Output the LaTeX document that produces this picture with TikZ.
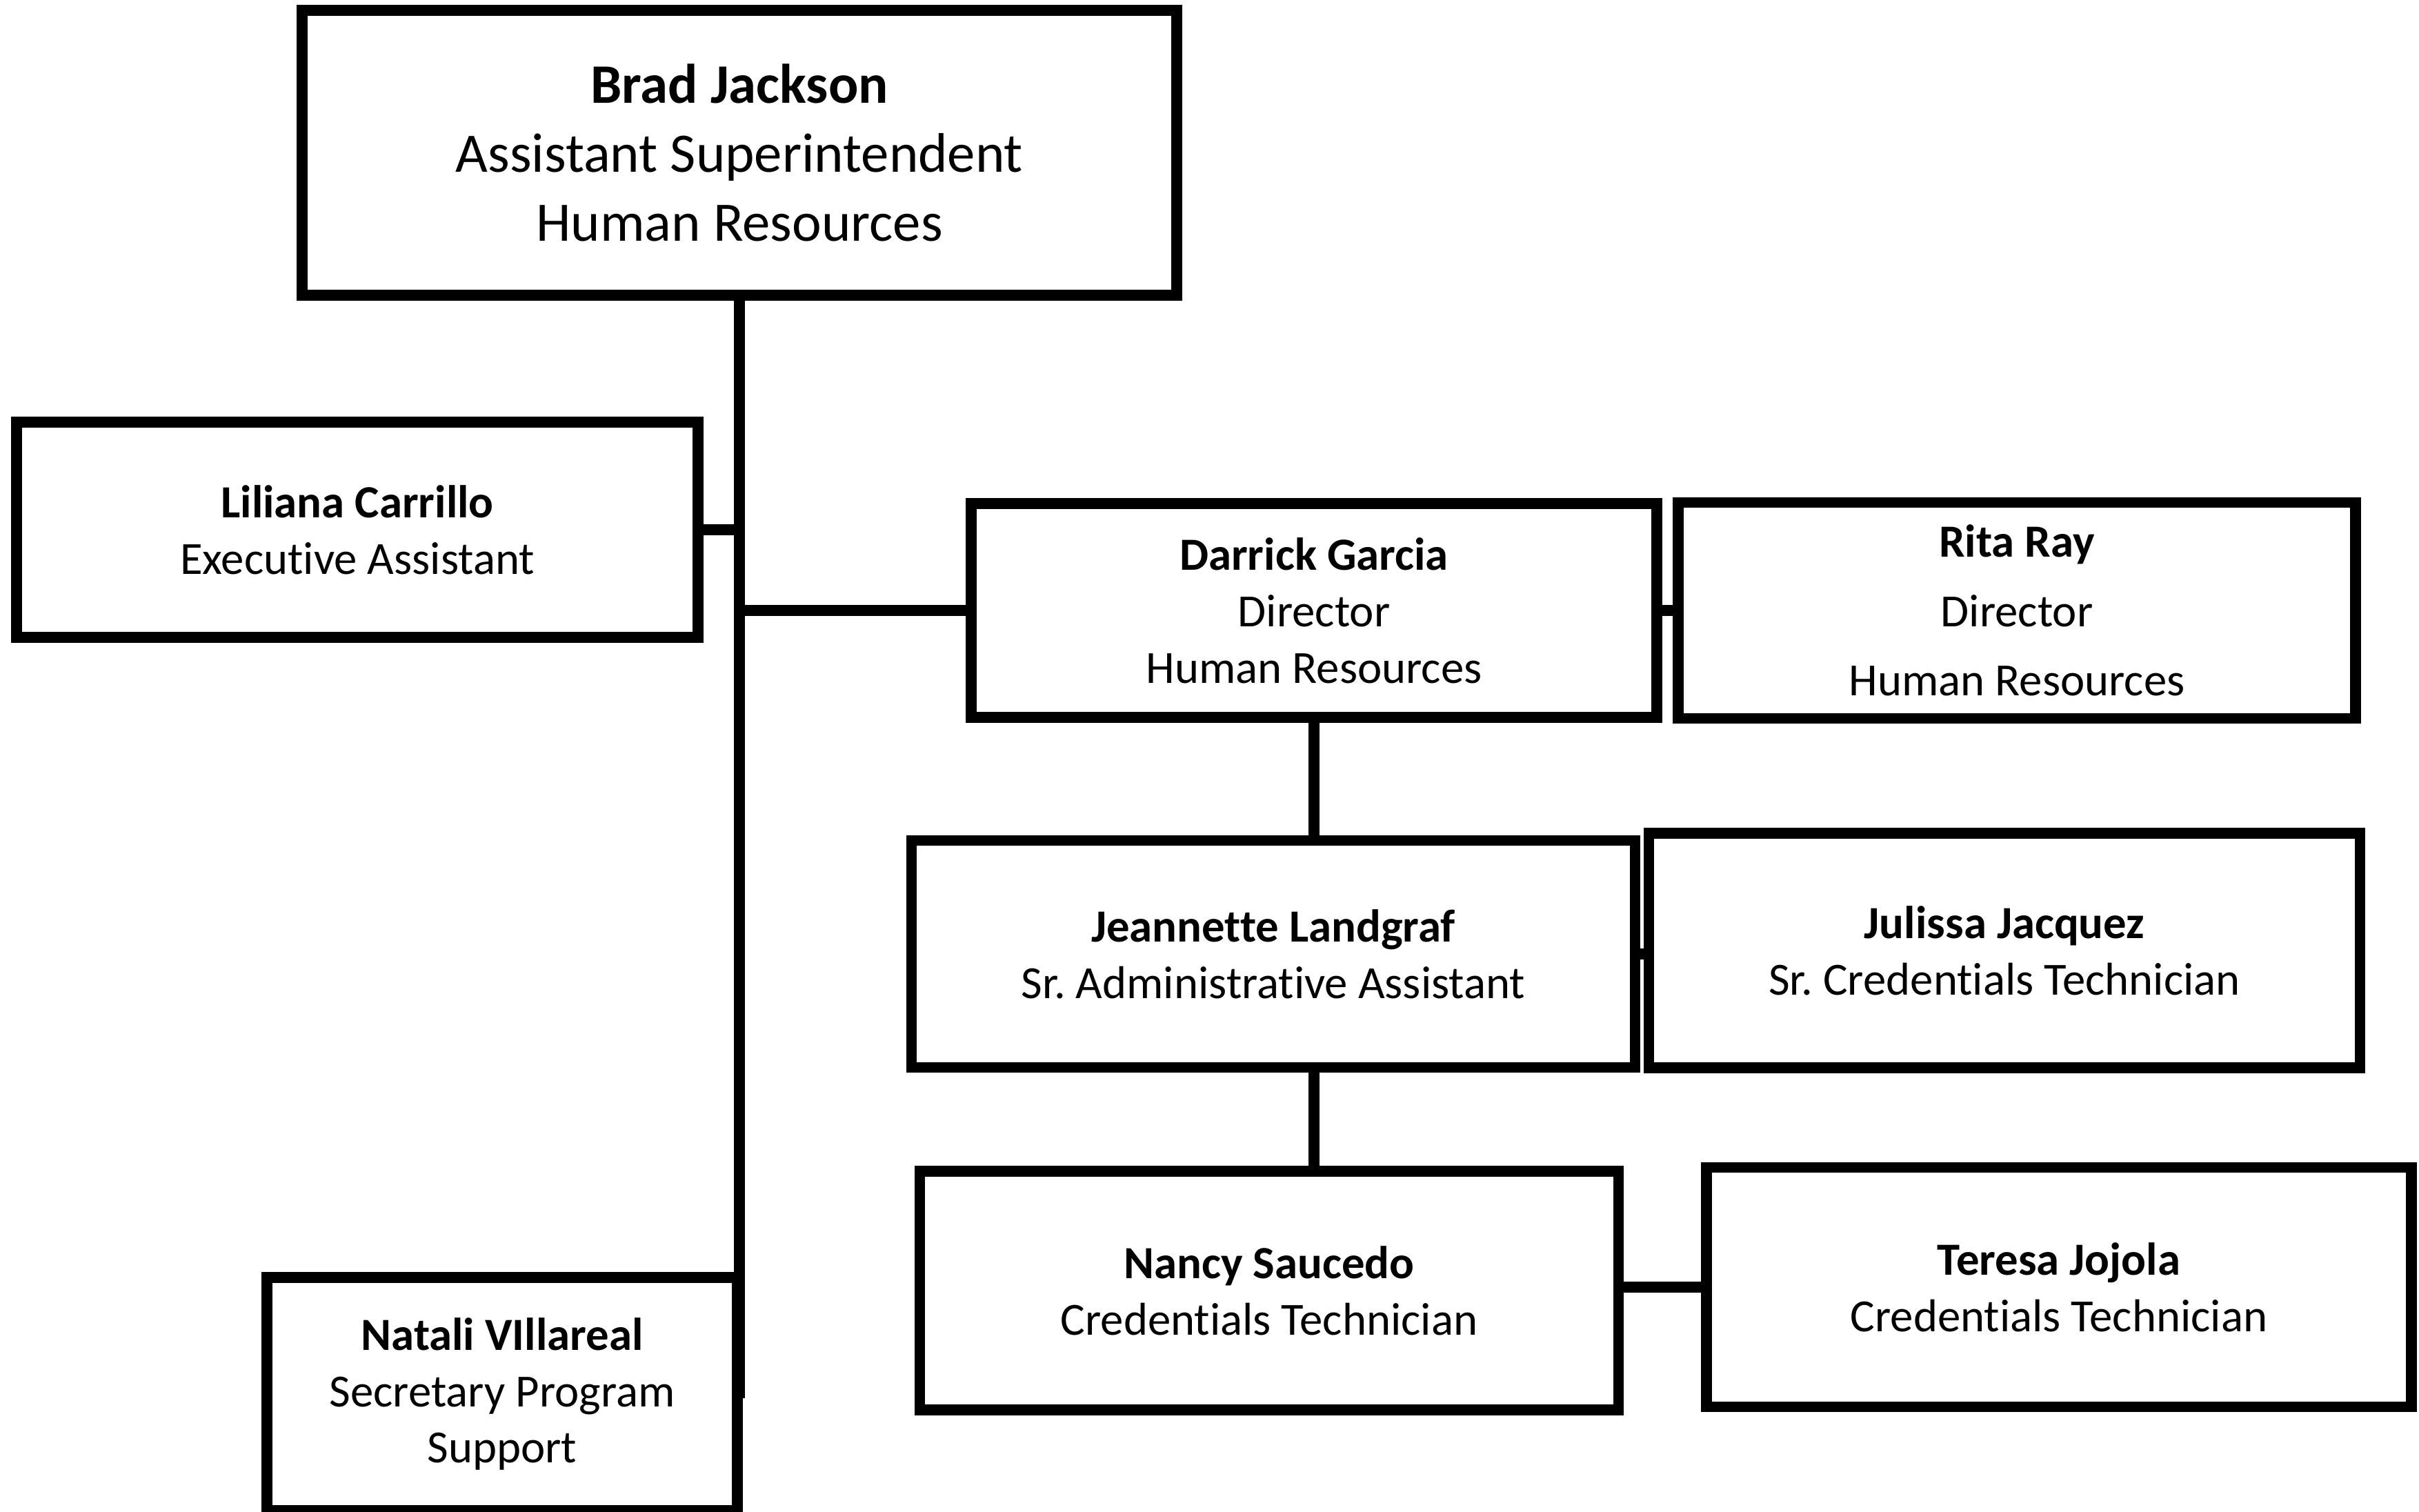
\documentclass[tikz,border=0pt]{standalone}
\usepackage{fontspec}
\setmainfont{Carlito}[Ligatures={NoCommon}]
\usepackage{tikz}
\usetikzlibrary{positioning}
\frenchspacing

\begin{document}
\begin{tikzpicture}[
  box/.style={draw, line width=4.3pt, align=center,
              font=\fontsize{19}{23.3}\selectfont},
  link/.style={line width=4.3pt},
]
\useasboundingbox (0,0) rectangle (35.07,21.92);

% === Head of department ===
\node[box, minimum width=12.68cm, minimum height=4.13cm,
      font=\fontsize{23}{28.5}\selectfont] (brad) at (10.72, 19.705)
  {\textbf{Brad Jackson}\\
   Assistant Superintendent\\
   Human Resources};

% === Staff on the trunk line ===
\node[box, minimum width=9.88cm, minimum height=3.12cm] (liliana) at (5.18, 14.24)
  {\textbf{Liliana Carrillo}\\
   Executive Assistant};

\node[box, minimum width=6.82cm, minimum height=3.38cm] (natali) at (7.28, 1.71)
  {\textbf{Natali VIllareal}\\
   Secretary Program\\
   Support};

% === Directors ===
\node[box, minimum width=9.94cm, minimum height=3.10cm] (darrick) at (19.05, 13.07)
  {\textbf{Darrick Garcia}\\
   Director\\
   Human Resources};

\node[box, minimum width=9.82cm, minimum height=3.13cm,
      font=\fontsize{19}{28.5}\selectfont] (rita) at (29.24, 13.07)
  {\textbf{Rita Ray}\\
   Director\\
   Human Resources};

% === Assistants and technicians ===
\node[box, minimum width=10.49cm, minimum height=3.29cm] (jeannette) at (18.46, 8.09)
  {\textbf{Jeannette Landgraf}\\
   Sr. Administrative Assistant};

\node[box, minimum width=10.31cm, minimum height=3.40cm] (julissa) at (29.06, 8.14)
  {\textbf{Julissa Jacquez}\\
   Sr. Credentials Technician};

\node[box, minimum width=10.13cm, minimum height=3.46cm] (nancy) at (18.40, 3.21)
  {\textbf{Nancy Saucedo}\\
   Credentials Technician};

\node[box, minimum width=10.22cm, minimum height=3.47cm] (teresa) at (29.85, 3.26)
  {\textbf{Teresa Jojola}\\
   Credentials Technician};

% === Connectors ===
\coordinate (trunkend) at (10.71, 1.65);

\draw[link] (brad.south) -- (brad.south |- trunkend);
\draw[link] (liliana.east) -- (liliana.east -| trunkend);
\draw[link] (darrick.west -| trunkend) -- (darrick.west);
\draw[link] (darrick.east) -- (rita.west);
\draw[link] (darrick.south) -- (darrick.south |- jeannette.north);
\draw[link] (jeannette.east) -- (jeannette.east -| julissa.west);
\draw[link] (darrick.south |- jeannette.south) -- (darrick.south |- nancy.north);
\draw[link] (teresa.west -| nancy.east) -- (teresa.west);

\end{tikzpicture}
\end{document}
